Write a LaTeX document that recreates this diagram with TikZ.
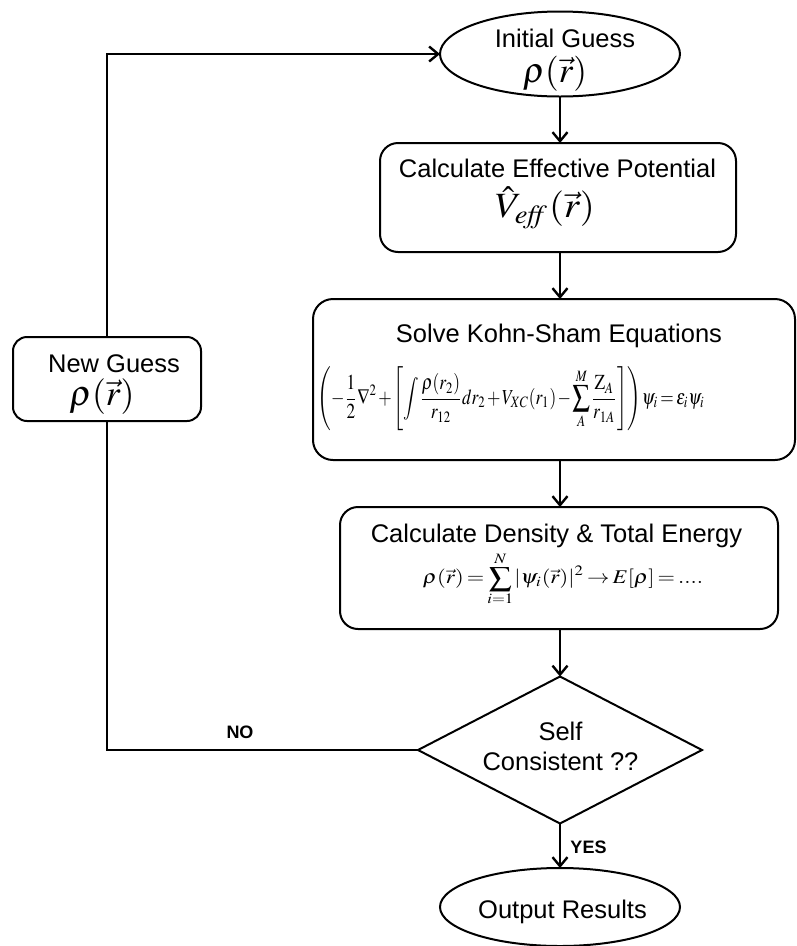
\documentclass[tikz,border=0pt]{standalone}
\usepackage{mathptmx}
\usepackage[no-math]{fontspec}
\setmainfont{Liberation Sans}
\usepackage{graphicx}
\usetikzlibrary{shapes.geometric,arrows.meta}
\newcommand{\tightmath}{\medmuskip=1.5mu\thickmuskip=2.5mu\thinmuskip=1mu}
\begin{document}
\begin{tikzpicture}[x=1pt,y=-1pt,
  every node/.style={inner sep=0pt, outer sep=0pt},
  shp/.style={draw, line width=2pt},
  rbox/.style={shp, rectangle, rounded corners=18pt},
  oval/.style={shp, ellipse},
  dia/.style={shp, diamond},
  txt/.style={font=\fontsize{25.5}{30}\selectfont, anchor=base},
  lbl/.style={font=\fontsize{18}{20}\selectfont\bfseries, anchor=base},
  arr/.style={line width=2.4pt, -{Straight Barb[length=9pt,width=15pt,line width=2.4pt]}},
  ln/.style={line width=2.4pt},
]
\useasboundingbox (0,0) rectangle (796,946);

% shapes
\node[oval, minimum width=240pt, minimum height=85pt] (init) at (560,54) {};
\node[rbox, minimum width=356pt, minimum height=109pt] (veff) at (558,197.5) {};
\node[rbox, rounded corners=20pt, minimum width=482pt, minimum height=161pt] (ks) at (554,379.5) {};
\node[rbox, minimum width=438pt, minimum height=122pt] (dens) at (559,568) {};
\node[dia, minimum width=284pt, minimum height=147pt] (sc) at (560,750) {};
\node[oval, minimum width=240pt, minimum height=78pt] (out) at (560,907) {};
\node[rbox, rounded corners=14pt, minimum width=188pt, minimum height=84pt] (newg) at (107,379) {};

% texts
\node[txt] (initT) at (565,47) {Initial Guess};
\node (initR) at (555,74) {\resizebox{64pt}{!}{$\rho(\vec r)$}};
\node[txt] (veffT) at (557.5,177) {Calculate Effective Potential};
\node (veffF) at (545,208) {\resizebox*{100pt}{42pt}{$\hat V_{\mathit{eff}}(\vec r)$}};
\node[txt] (ksT) at (559,342) {Solve Kohn-Sham Equations};
\node (ksF) at (511,399) {\resizebox*{387pt}{64pt}{$\tightmath\displaystyle\left(-\frac{1}{2}\nabla^2+\left[\int\frac{\rho(r_2)}{r_{12}}dr_2+V_{XC}(r_1)-\sum_{A}^{M}\frac{\mathrm{Z}_A}{r_{1A}}\right]\right)\psi_i=\varepsilon_i\psi_i$}};
\node[txt] (densT) at (556.5,542) {Calculate Density \& Total Energy};
\node (densF) at (563,579) {\resizebox*{280pt}{54pt}{$\tightmath\displaystyle\rho(\vec r)=\sum_{i=1}^{N}|\psi_i(\vec r)|^2\rightarrow E[\rho]=....$}};
\node[txt] (scT1) at (560.5,740) {Self};
\node[txt] (scT2) at (560.5,770) {Consistent ??};
\node[txt] (outT) at (562.5,918) {Output Results};
\node[txt] (newgT) at (114,372) {New Guess};
\node (newgR) at (102,397) {\resizebox{65pt}{!}{$\rho(\vec r)$}};
\node[lbl] (no) at (240,738) {NO};
\node[lbl] (yes) at (588.5,853) {YES};

% connectors
\draw[arr] (init.south) -- (init.south |- veff.north);
\draw[arr] (init.south |- veff.south) -- (init.south |- ks.north);
\draw[arr] (init.south |- ks.south) -- (init.south |- dens.north);
\draw[arr] (init.south |- dens.south) -- (sc.north);
\draw[arr] (sc.south) -- (out.north);
\draw[ln] (sc.west) -| (newg.south);
\draw[arr] (newg.north) |- (init.west);
\end{tikzpicture}
\end{document}
